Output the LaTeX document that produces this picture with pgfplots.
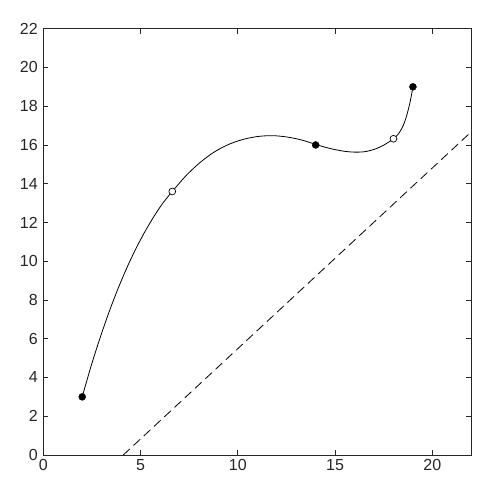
\documentclass[border=0pt]{standalone}
\usepackage{pgfplots}
\pgfplotsset{compat=1.18}
\usepackage{fontspec}
\setmainfont{Liberation Sans}
\definecolor{axgray}{rgb}{0.15,0.15,0.15}
\begin{document}
\begin{tikzpicture}
\useasboundingbox (-43.3pt,-37pt) rectangle (460.7pt,455pt);
\begin{axis}[
  at={(0pt,0pt)}, anchor=south west,
  scale only axis, width=428pt, height=426.3pt,
  xmin=0, xmax=22, ymin=0, ymax=22,
  xtick={0,5,10,15,20}, ytick={0,2,...,22},
  tick align=inside, major tick length=5pt,
  axis line style={axgray, line width=0.8pt},
  tick style={axgray, line width=0.8pt},
  /pgf/number format/assume math mode=true,
  tick label style={font=\fontsize{16}{19}\selectfont, text=axgray},
  yticklabel style={xshift=-2pt},
  xticklabel style={yshift=-1pt},
  clip=true,
]
\addplot[black, line width=0.8pt, dash pattern=on 9pt off 5pt] coordinates {(4.11,0) (22,16.68)};
\addplot[black, line width=0.8pt, smooth, tension=0.5] coordinates {
 (2,3) (2.46,4.60) (2.92,6.05) (3.38,7.38) (3.84,8.58) (4.30,9.67) (4.76,10.65) (5.22,11.52) (5.68,12.30) (6.14,12.99) (6.63,13.6)
 (7.37,14.45) (8.10,15.13) (8.84,15.67) (9.58,16.05) (10.32,16.30) (11.05,16.44) (11.79,16.48) (12.53,16.41) (13.26,16.26) (14,16.03)
 (14.5,15.88) (15,15.76) (15.5,15.67) (16,15.63) (16.5,15.65) (17,15.77) (17.5,15.99) (18,16.32)
 (18.125,16.43) (18.25,16.57) (18.375,16.76) (18.5,17.0) (18.625,17.34) (18.75,17.78) (18.875,18.32) (19,19)
};
\addplot[only marks, mark=*, mark size=3.5pt, mark options={fill=black, draw=black}] coordinates {(2,3) (14,16) (19,19)};
\addplot[only marks, mark=*, mark size=3.4pt, mark options={fill=white, draw=black, line width=0.7pt}] coordinates {(6.63,13.6) (18,16.32)};
\end{axis}
\end{tikzpicture}
\end{document}
